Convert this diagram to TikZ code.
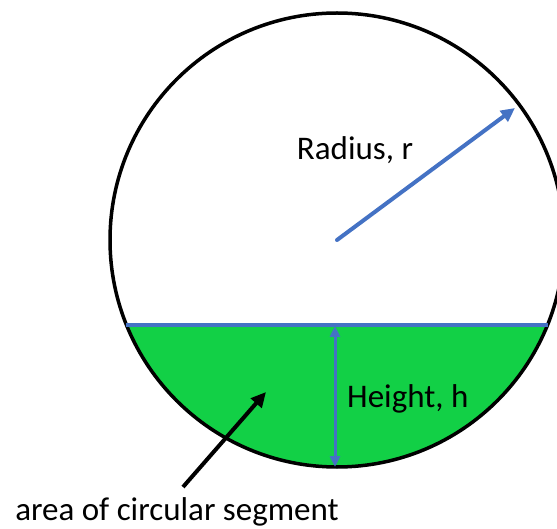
\documentclass[tikz,border=0pt]{standalone}
\usepackage{fontspec}
\setmainfont{Carlito}
\usetikzlibrary{arrows.meta}
\definecolor{offblue}{RGB}{68,114,196}
\definecolor{seggreen}{RGB}{18,208,70}

\begin{document}
\begin{tikzpicture}[x=1pt,y=-1pt,font=\fontsize{33}{40}\selectfont]
\useasboundingbox (0,0) rectangle (557,529);

\coordinate (c) at (337,240);
\coordinate (rim) at (515,108);
\coordinate (cl) at (126,325);
\coordinate (cr) at (548,325);
\coordinate (htop) at (335,326);
\coordinate (hbot) at (335,467);
\coordinate (segfoot) at (183,487);
\coordinate (segtip) at (266,392);

\begin{scope}
\clip (0,325) rectangle (557,529);
\fill[seggreen] (c) circle (227pt);
\end{scope}

\draw[line width=3.5pt] (c) circle (227pt);

\begin{scope}[offblue]
\draw[line width=4pt] (cl) -- (cr);
\draw[line width=4pt,line cap=round,-{Triangle[length=14pt,width=13pt]}] (c) -- (rim);
\draw[line width=3pt,{Triangle[length=11pt,width=10pt]}-{Triangle[length=11pt,width=10pt]}] (htop) -- (hbot);
\end{scope}

\draw[line width=4pt,-{Triangle[length=15pt,width=14pt]}] (segfoot) -- (segtip);

\begin{scope}[inner sep=0pt]
\node[anchor=base] (rad) at (355,160) {Radius, r};
\node[anchor=base west] (hgt) at (347,407) {Height, h};
\node[anchor=base] (seg) at (177,520) {area of circular segment};
\end{scope}

\end{tikzpicture}
\end{document}
